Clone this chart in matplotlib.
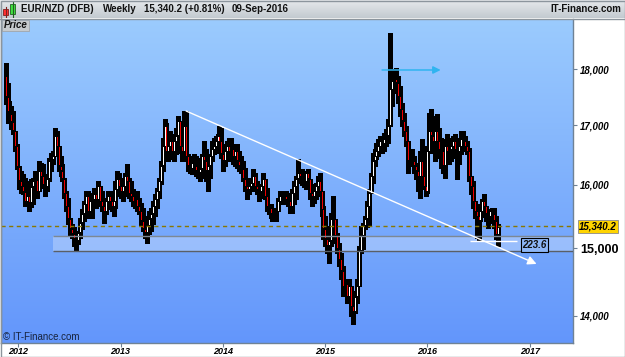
import numpy as np
import pandas as pd
import matplotlib
matplotlib.use('Agg')
import matplotlib.pyplot as plt
import matplotlib.dates as mdates
from matplotlib.colors import LinearSegmentedColormap
from matplotlib.patches import Rectangle
from matplotlib.ticker import NullLocator, NullFormatter
from matplotlib.transforms import blended_transform_factory

plt.rcParams['font.family'] = ['Liberation Sans', 'DejaVu Sans']

# ---------------- data ----------------
symbol = 'EUR/NZD (DFB)'
period = 'Weekly'
last_close_text = '15,340.2 (+0.81%)'
last_date_text = '09-Sep-2016'
site = 'IT-Finance.com'

dates = pd.date_range(end='2016-09-09', periods=252, freq='W-FRI')
first_open = 17880

high = [18120, 17750, 17430, 17340, 17250, 16903, 16680, 16280, 16229, 16180,
        16115, 16015, 16065, 16095, 16115, 16230, 16180, 16395, 16362, 16345,
        16113, 16179, 16445, 16528, 16562, 16955, 16903, 16562, 16478, 16345,
        16113, 15901, 15788, 15470, 15376, 15330, 15267, 15267, 15470, 15612,
        15740, 15901, 15901, 15869, 15852, 15950, 15901, 16064, 15982, 15901,
        15740, 15788, 15901, 15901, 15869, 15788, 16064, 16229, 16196, 16113,
        16015, 16196, 16345, 16113, 16064, 15933, 15852, 15901, 15788, 15708,
        15628, 15470, 15501, 15580, 15628, 15740, 15852, 15950, 16113, 16395,
        16784, 17112, 17042, 16903, 16903, 16852, 16784, 16955, 17164, 17077,
        16903, 17251, 17251, 16512, 16478, 16395, 16512, 16478, 16445, 16345,
        16512, 16732, 16596, 16445, 16512, 16732, 16784, 16818, 16852, 16990,
        16955, 16613, 16681, 16732, 16784, 16784, 16681, 16681, 16681, 16562,
        16478, 16395, 16279, 16113, 16064, 16113, 16262, 16196, 16064, 16015,
        16015, 16196, 16097, 15950, 15692, 15692, 15580, 15612, 15628, 15788,
        15901, 15901, 15901, 15901, 15869, 15852, 15933, 16064, 16146, 16428,
        16262, 16262, 16229, 16229, 16262, 16097, 15982, 16015, 16031, 16146,
        16196, 15869, 15660, 15501, 15345, 15143, 15548, 15820, 15345, 15236,
        15081, 14929, 14732, 14537, 14537, 14537, 14390, 14287, 14360, 14537,
        15035, 15345, 15392, 15501, 15740, 15933, 16196, 16528, 16596, 16698,
        16767, 16818, 16767, 16869, 16938, 17112, 18678, 18006, 17933, 18024,
        17878, 17696, 17393, 17216, 16990, 16596, 16528, 16596, 16478, 16312,
        16362, 16562, 16767, 16262, 16097, 16647, 17216, 17286, 17112, 17164,
        17199, 16955, 16784, 16767, 16732, 16852, 16784, 16732, 16818, 16852,
        16784, 16784, 16903, 16903, 16818, 16732, 16613, 16113, 16064, 15740,
        15580, 15580, 15692, 15772, 15852, 15628, 15580, 15612, 15628, 15628,
        15501, 15376]

low = [17375, 17040, 17075, 16940, 16850, 16562, 16260, 15935, 15869, 15850,
       15660, 15660, 15580, 15645, 15690, 15900, 15790, 16015, 15982, 15950,
       15820, 15901, 16064, 16229, 16345, 16512, 16512, 16229, 16146, 16064,
       15788, 15580, 15376, 15190, 15159, 15035, 14959, 15066, 15159, 15298,
       15423, 15628, 15470, 15470, 15470, 15628, 15628, 15740, 15660, 15580,
       15392, 15533, 15628, 15612, 15580, 15501, 15628, 15852, 15820, 15788,
       15740, 15820, 15950, 15788, 15740, 15660, 15628, 15580, 15533, 15345,
       15267, 15159, 15081, 15221, 15267, 15376, 15501, 15628, 15788, 16015,
       16229, 16562, 16445, 16395, 16428, 16445, 16395, 16512, 16613, 16528,
       16395, 16512, 16395, 16229, 16196, 16179, 16229, 16146, 16113, 16064,
       16113, 16345, 16064, 15901, 16113, 16395, 16512, 16528, 16562, 16613,
       16445, 16229, 16312, 16395, 16445, 16395, 16345, 16312, 16279, 16229,
       16196, 16064, 15901, 15772, 15852, 15901, 15950, 15901, 15852, 15740,
       15788, 15901, 15772, 15580, 15533, 15470, 15423, 15423, 15423, 15580,
       15692, 15740, 15692, 15692, 15660, 15548, 15548, 15692, 15772, 16031,
       16031, 15998, 15966, 15933, 16031, 15772, 15660, 15708, 15772, 15869,
       15820, 15501, 15143, 15035, 14929, 14777, 15035, 15392, 15081, 14929,
       14732, 14537, 14287, 14287, 14186, 14244, 14000, 13886, 14043, 14186,
       14434, 14929, 14990, 15298, 15329, 15345, 15982, 16031, 16312, 16428,
       16478, 16528, 16528, 16562, 16647, 16698, 17129, 17339, 17570, 17642,
       17393, 17164, 16990, 16818, 16647, 16196, 16312, 16312, 16196, 16097,
       15901, 15788, 16031, 15933, 15820, 15869, 16528, 16596, 16528, 16395,
       16613, 16445, 16279, 16196, 16113, 16445, 16345, 16395, 16445, 16512,
       16097, 16345, 16512, 16613, 16562, 16512, 16064, 15852, 15628, 15470,
       15159, 15112, 15423, 15486, 15533, 15423, 15314, 15392, 15423, 15314,
       15143, 15035]

close = [17515, 17250, 17215, 17075, 16905, 16647, 16310, 16065, 15982, 15900,
         15740, 15820, 15710, 15980, 16065, 16095, 15900, 16229, 16146, 16015,
         15982, 16097, 16395, 16428, 16478, 16818, 16647, 16312, 16229, 16097,
         15869, 15660, 15455, 15298, 15221, 15143, 15112, 15236, 15392, 15548,
         15692, 15820, 15580, 15740, 15772, 15852, 15772, 15982, 15740, 15660,
         15580, 15740, 15820, 15740, 15660, 15740, 15933, 16097, 15982, 15901,
         15982, 16146, 16064, 15869, 15820, 15740, 15772, 15660, 15580, 15423,
         15298, 15236, 15345, 15455, 15548, 15660, 15772, 15901, 16064, 16312,
         16647, 16990, 16562, 16647, 16732, 16562, 16732, 16818, 17077, 16647,
         16562, 16990, 16478, 16312, 16262, 16362, 16312, 16229, 16196, 16262,
         16478, 16395, 16229, 16312, 16478, 16596, 16647, 16732, 16818, 16732,
         16528, 16395, 16562, 16647, 16562, 16596, 16478, 16562, 16395, 16312,
         16262, 16097, 15982, 15933, 15982, 16031, 16146, 15982, 15933, 15901,
         15982, 16097, 15820, 15660, 15628, 15548, 15501, 15548, 15580, 15740,
         15820, 15788, 15820, 15772, 15740, 15660, 15869, 15982, 16097, 16196,
         16146, 16097, 16064, 16196, 16097, 15869, 15820, 15901, 15982, 16064,
         15901, 15612, 15298, 15143, 15035, 15112, 15455, 15455, 15190, 14990,
         14837, 14657, 14434, 14478, 14287, 14434, 14143, 14071, 14287, 14434,
         14959, 15190, 15345, 15455, 15660, 15869, 16146, 16395, 16478, 16562,
         16647, 16732, 16698, 16767, 16818, 16990, 17642, 17787, 17823, 17751,
         17517, 17286, 17077, 16903, 16732, 16395, 16428, 16395, 16312, 16229,
         16146, 16395, 16146, 15982, 15901, 16562, 16903, 16818, 16732, 16903,
         16732, 16596, 16562, 16312, 16647, 16562, 16596, 16647, 16732, 16596,
         16562, 16647, 16767, 16732, 16647, 16562, 16146, 15982, 15740, 15580,
         15501, 15423, 15580, 15740, 15660, 15548, 15501, 15580, 15548, 15423,
         15217, 15340.2]

y_ticks = [14000, 15000, 16000, 17000, 18000]
y_tick_labels = ['14,000', '15,000', '16,000', '17,000', '18,000']
x_years = [2012, 2013, 2014, 2015, 2016, 2017]

last_price = 15340.2
last_price_label = '15,340.2'
support_top = 15185
support_bottom = 14960
support_start = '2012-05-05'
trend_start = ('2013-08-23', 17251)
trend_end = ('2017-01-24', 14762)
target_level = 17987
target_start = '2015-07-23'
target_end = '2016-02-17'
recent_low = 15116.6
recent_low_start = '2016-05-31'
recent_low_end = '2016-11-14'
distance_label = '223.6'
distance_label_pos = ('2017-01-17', 15050)

# ---------------- figure ----------------
W, H = 625, 357
fig = plt.figure(figsize=(W / 100, H / 100), dpi=100)
fig.patch.set_facecolor('white')


def frac(x0, y0, x1, y1):
    return [x0 / W, 1 - y1 / H, (x1 - x0) / W, (y1 - y0) / H]


plot_rect = frac(1, 19, 573, 343)

# background gradient
bg = fig.add_axes(plot_rect, zorder=0)
grad = np.linspace(0, 1, 256).reshape(-1, 1)
bg.imshow(grad, cmap=LinearSegmentedColormap.from_list('bgc', ['#9bcbfe', '#6396fb']),
          aspect='auto', extent=[0, 1, 0, 1], origin='upper', interpolation='bilinear')
bg.axis('off')

ax = fig.add_axes(plot_rect, zorder=1)
ax.patch.set_visible(False)

d = lambda s: mdates.date2num(pd.Timestamp(s))
d2012 = d('2012-01-01')
xl = d2012 - 60.3
xr = d2012 + 1980.0

x = mdates.date2num(dates)
c = np.array(close, float)
o = np.concatenate([[first_open], c[:-1]])
h = np.array(high, float)
l = np.array(low, float)

# support band
ax.add_patch(Rectangle((d(support_start), support_bottom), xr - d(support_start),
                       support_top - support_bottom, facecolor='white', alpha=0.28,
                       edgecolor='none', zorder=2))

# candles: black high-low bar with a thin coloured body slit inside
ax.vlines(x, np.minimum(l, np.minimum(o, c)), np.maximum(h, np.maximum(o, c)),
          color='black', lw=2.3, zorder=3, antialiased=False)
inset = 1.0015  # keep a thin black outline at body ends
btop = np.maximum(o, c) / inset
bbot = np.minimum(o, c) * inset
show = btop > bbot
body_col = np.where(c >= o, 'white', '#ee0000')
ax.vlines(x[show], bbot[show], btop[show], colors=body_col[show], lw=0.72, zorder=4,
          antialiased=False)

ax.hlines([support_top], d(support_start), xr, color='#7d8893', lw=1.0, zorder=5)
ax.hlines([support_bottom], d(support_start), xr, color='#5a5f66', lw=1.0, zorder=5)

# last price dashed line
ax.axhline(last_price, color='#8a7800', lw=1.0, ls=(0, (3, 2.5)), zorder=5)

# trend line
ax.annotate('', xy=(d(trend_end[0]), trend_end[1]), xytext=(d(trend_start[0]), trend_start[1]),
            arrowprops=dict(arrowstyle='-|>', color='white', lw=1.0, mutation_scale=13,
                            shrinkA=0, shrinkB=0), zorder=6)
# target arrow
ax.annotate('', xy=(d(target_end), target_level), xytext=(d(target_start), target_level),
            arrowprops=dict(arrowstyle='-|>', color='#2fb4f0', lw=1.1, mutation_scale=11,
                            shrinkA=0, shrinkB=0), zorder=6)
# recent low line
ax.hlines([recent_low], d(recent_low_start), d(recent_low_end), color='white', lw=1.0, zorder=6)
ax.text(d(distance_label_pos[0]), distance_label_pos[1], distance_label, ha='center', va='center',
        fontsize=7, fontweight='bold', fontstyle='italic', color='#111111', zorder=7,
        bbox=dict(boxstyle='square,pad=0.18', fc='#8db6f6', ec='black', lw=0.8))

# axes
ax.set_yscale('log')
ax.set_ylim(13620, 18946)
ax.set_xlim(xl, xr)
ax.set_yticks(y_ticks, labels=y_tick_labels)
ax.yaxis.set_minor_locator(NullLocator())
ax.yaxis.set_minor_formatter(NullFormatter())
ax.yaxis.tick_right()
ax.tick_params(axis='y', direction='out', length=3, width=0.8, color='#6f8295', pad=2,
               labelsize=7)
for lbl in ax.get_yticklabels():
    lbl.set_fontweight('bold')
    lbl.set_fontstyle('italic')
    if lbl.get_text() == '15,000':
        lbl.set_fontstyle('normal')
        lbl.set_fontsize(9)

ax.set_xticks([d(f'{yr}-01-01') for yr in x_years], labels=[str(yr) for yr in x_years])
ax.tick_params(axis='x', direction='out', length=3, width=0.8, color='#6f8295', pad=0,
               labelsize=6.5)
for lbl in ax.get_xticklabels():
    lbl.set_fontweight('bold')
    lbl.set_fontstyle('italic')

ax.spines['top'].set_visible(False)
for s in ('left', 'right', 'bottom'):
    ax.spines[s].set_color('#6f8295')
    ax.spines[s].set_linewidth(1.0)

# last price label on the axis
trans = blended_transform_factory(ax.transAxes, ax.transData)
ax.text(1 + (598 - 573) / 572, last_price, last_price_label, transform=trans, ha='center',
        va='center', fontsize=7, fontweight='bold', fontstyle='italic', clip_on=False, zorder=8,
        bbox=dict(boxstyle='square,pad=0.15', fc='#ffd400', ec='#8a8a8a', lw=0.6))

# title bar
tb = fig.add_axes(frac(0, 0, 625, 18), zorder=2)
tb.imshow(grad, cmap=LinearSegmentedColormap.from_list('tbc', ['#e6e9ec', '#c3cad0']),
          aspect='auto', extent=[0, 625, 18, 0], origin='upper')
tb.set_xlim(0, 625)
tb.set_ylim(18, 0)
tb.axis('off')
tb.plot([5.8, 5.8], [7, 16.5], color='#802020', lw=0.8)
tb.add_patch(Rectangle((3.3, 9.3), 5, 5.7, fc='#ff3030', ec='#802020', lw=0.6))
tb.plot([12.5, 12.5], [1.5, 16.5], color='#206020', lw=0.8)
tb.add_patch(Rectangle((10, 4), 5, 10, fc='#40e040', ec='#206020', lw=0.6))
for xp, txt in [(21, symbol), (103, period), (144, last_close_text), (232, last_date_text)]:
    tb.text(xp, 9.5, txt, fontsize=7, fontweight='bold', va='center', ha='left', color='#111111')
tb.text(621, 9.5, site, fontsize=7, fontweight='bold', va='center', ha='right', color='#111111')

# overlay decorations (pixel coordinates)
ov = fig.add_axes([0, 0, 1, 1], zorder=10)
ov.set_xlim(0, W)
ov.set_ylim(H, 0)
ov.axis('off')
ov.plot([0, W], [18.5, 18.5], color='#8c959d', lw=1)
ov.add_patch(Rectangle((1.5, 19.5), 27, 11, fc='#c6cacd', ec='#a0a6ab', lw=0.6))
ov.text(3.5, 25, 'Price', fontsize=7, fontweight='bold', fontstyle='italic', va='center',
        ha='left', color='#111111')
ov.text(3, 336.5, '© IT-Finance.com', fontsize=7, va='center', ha='left', color='#17233d')
ov.add_patch(Rectangle((0.5, 0.5), W - 1, H - 1, fill=False, ec='#8c959d', lw=1))

fig.savefig('out.png', dpi=100)
